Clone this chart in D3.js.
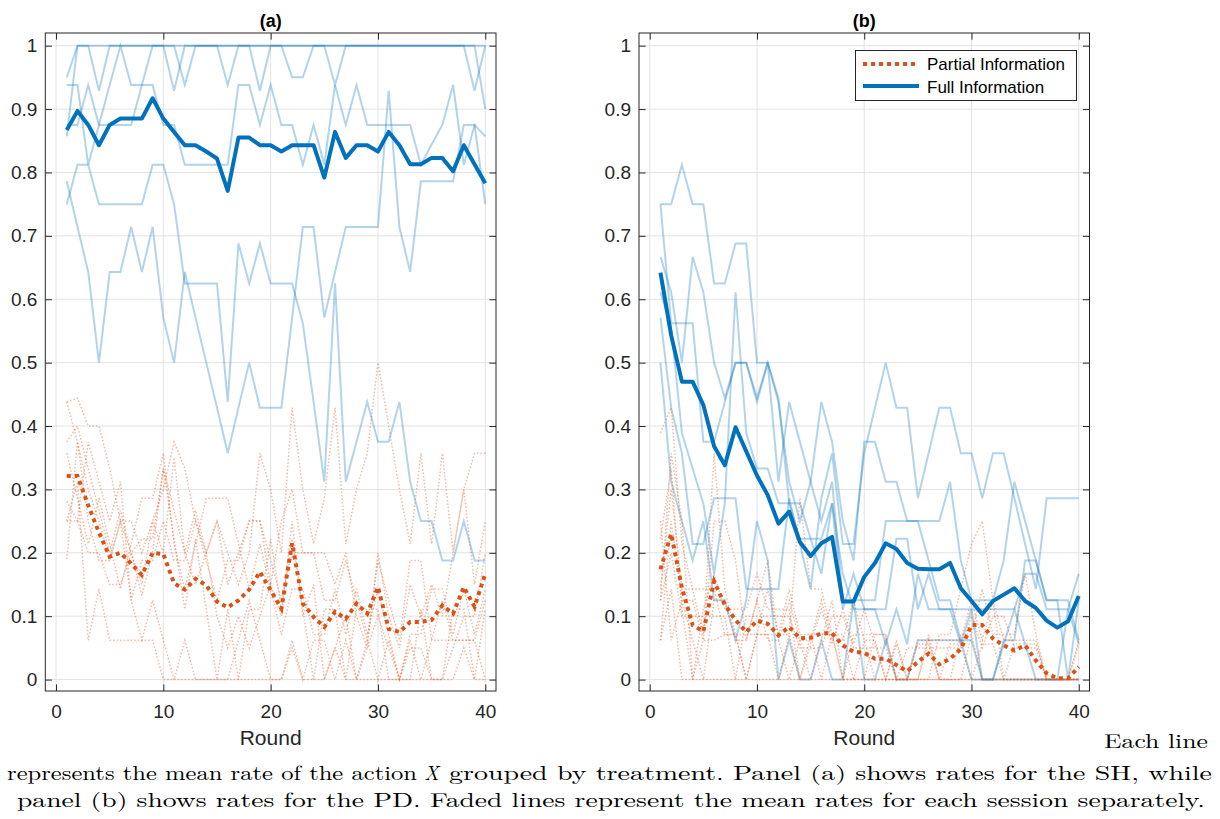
<!DOCTYPE html>
<html><head><meta charset="utf-8">
<script src="https://cdn.jsdelivr.net/npm/d3@7"></script>
<style>body{margin:0;background:#fff}svg{display:block}</style>
</head><body><svg id="c" width="1220" height="819"></svg>
<script>
// ---------------- DATA ----------------
const rounds = [1,2,3,4,5,6,7,8,9,10,11,12,13,14,15,16,17,18,19,20,21,22,23,24,25,26,27,28,29,30,31,32,33,34,35,36,37,38,39,40];
const xTicks = [0,10,20,30,40];
const yTicks = [0,0.1,0.2,0.3,0.4,0.5,0.6,0.7,0.8,0.9,1];
const yTickLabels = ["0","0.1","0.2","0.3","0.4","0.5","0.6","0.7","0.8","0.9","1"];
const panelTitles = ["(a)","(b)"];
const xLabel = "Round";
const legendLabels = ["Partial Information","Full Information"];

// Panel (a): means
const aFull = [0.867,0.897,0.875,0.843,0.875,0.885,0.885,0.885,0.917,0.885,0.864,0.843,0.843,0.833,0.822,0.771,0.855,0.855,0.843,0.843,0.833,0.843,0.843,0.843,0.792,0.864,0.823,0.843,0.843,0.833,0.864,0.843,0.813,0.813,0.823,0.823,0.802,0.843,0.813,0.783];
const aPartial = [0.321,0.321,0.275,0.232,0.194,0.2,0.183,0.165,0.2,0.198,0.152,0.142,0.159,0.149,0.123,0.114,0.125,0.142,0.17,0.141,0.112,0.215,0.12,0.099,0.083,0.107,0.096,0.12,0.104,0.146,0.08,0.075,0.091,0.091,0.094,0.117,0.104,0.146,0.115,0.167];
// Panel (a): sessions, full information
const aFullS1 = [0.95,1,1,1,1,1,1,1,1,1,1,1,1,1,1,1,1,1,1,1,1,1,1,1,1,1,1,1,1,1,1,1,1,1,1,1,1,1,1,1];
const aFullS2 = [0.875,0.875,0.938,0.875,0.875,0.875,0.875,0.938,1,1,1,0.938,1,1,1,0.938,1,1,1,1,1,0.95,0.95,1,1,0.938,1,1,1,1,1,1,1,1,1,1,1,1,1,0.9];
const aFullS3 = [0.938,0.938,0.812,0.875,0.938,1,0.938,0.938,0.938,0.875,0.875,0.812,0.812,0.812,0.812,0.812,0.938,0.938,0.875,0.938,0.875,0.875,0.812,0.875,0.812,0.938,0.875,0.938,0.875,0.875,0.875,0.875,0.875,0.812,0.844,0.875,0.938,0.812,0.875,0.857];
const aFullS4 = [0.75,0.812,0.812,0.75,0.75,0.75,0.75,0.75,0.812,0.812,0.75,0.625,0.625,0.625,0.625,0.438,0.688,0.625,0.688,0.625,0.625,0.625,0.562,0.438,0.312,0.625,0.312,0.375,0.438,0.375,0.375,0.438,0.312,0.25,0.25,0.188,0.188,0.25,0.188,0.188];
const aFullS5 = [0.786,0.714,0.643,0.5,0.643,0.643,0.714,0.643,0.714,0.571,0.5,0.643,0.571,0.5,0.429,0.357,0.429,0.5,0.429,0.429,0.429,0.571,0.714,0.714,0.571,0.643,0.714,0.714,0.714,0.714,0.929,0.714,0.643,0.786,0.786,0.786,0.786,0.875,0.875,0.75];
const aFullS6 = [0.857,1,1,0.929,1,1,1,1,1,1,0.929,1,1,1,1,1,1,1,0.929,1,1,1,1,1,1,1,1,1,1,1,1,1,1,1,1,1,1,1,0.929,1];
// Panel (a): sessions, partial information
const aPartS1 = [0.438,0.444,0.4,0.4,0.333,0.25,0.25,0.2,0.25,0.3,0.375,0.333,0.25,0.2,0.25,0.2,0.15,0.2,0.357,0.3,0.2,0.429,0.3,0.214,0.286,0.429,0.214,0.3,0.357,0.5,0.4,0.3,0.214,0.357,0.214,0.357,0.2,0.3,0.357,0.357];
const aPartS2 = [0.375,0.4,0.333,0.267,0.2,0.267,0.2,0.133,0.2,0.333,0.267,0.2,0.267,0.2,0.25,0.15,0.2,0.25,0.25,0.15,0.25,0.3,0.2,0.2,0.2,0.15,0.2,0.1,0.05,0.2,0.1,0.05,0.15,0.1,0.15,0.1,0.2,0.3,0.15,0.25];
const aPartS3 = [0.25,0.312,0.062,0.143,0.062,0.062,0.062,0.062,0.062,0,0,0,0,0,0,0,0,0,0,0,0,0.05,0,0,0,0.05,0,0,0,0,0,0,0,0,0,0,0,0.05,0,0];
const aPartS4 = [0.281,0.25,0.375,0.312,0.25,0.312,0.125,0.062,0.125,0.062,0,0.062,0,0,0,0,0.062,0.125,0.062,0,0,0.062,0,0.062,0.062,0,0.062,0,0.062,0,0.062,0,0.062,0,0.062,0.062,0.062,0.062,0.062,0];
const aPartS5 = [0.357,0.286,0.214,0.286,0.214,0.143,0.214,0.286,0.286,0.357,0.214,0.143,0.214,0.286,0.286,0.286,0.214,0.143,0.214,0.143,0.071,0.143,0.143,0.071,0.071,0.143,0.071,0.143,0.071,0.143,0.071,0,0.071,0.071,0.143,0.143,0.071,0.143,0.071,0.143];
const aPartS6 = [0.19,0.375,0.3,0.25,0.188,0.25,0.125,0.188,0.188,0.25,0.188,0.188,0.25,0.188,0.125,0.188,0.188,0.25,0.25,0.188,0.125,0.2,0.2,0.2,0.125,0.125,0.188,0.125,0.062,0.188,0.125,0.062,0.188,0.188,0.062,0.125,0.062,0.062,0.062,0.125];
const aPartS7 = [0.438,0.375,0.25,0.188,0.188,0.25,0.2,0.222,0.222,0.333,0.222,0.111,0.222,0.111,0,0.111,0,0.111,0.111,0.222,0.111,0.222,0.111,0,0.111,0.111,0,0.111,0.111,0.111,0,0,0,0.111,0,0,0.111,0.111,0,0.111];
const aPartS8 = [0.25,0.25,0.2,0.2,0.15,0.15,0.2,0.15,0.25,0.2,0.35,0.2,0.15,0.2,0.1,0.05,0.1,0.05,0.1,0.15,0.1,0.25,0.1,0.15,0,0.05,0.1,0,0.05,0.1,0.05,0,0.05,0.05,0,0,0.05,0.1,0.1,0.2];

// Panel (b): means
const bFull = [0.642,0.543,0.47,0.47,0.433,0.368,0.338,0.398,0.36,0.322,0.291,0.246,0.265,0.217,0.195,0.215,0.225,0.123,0.123,0.162,0.184,0.215,0.206,0.184,0.175,0.174,0.174,0.184,0.144,0.124,0.103,0.124,0.134,0.144,0.124,0.113,0.093,0.082,0.092,0.132];
const bPartial = [0.174,0.23,0.145,0.086,0.076,0.155,0.118,0.094,0.075,0.093,0.088,0.07,0.083,0.065,0.066,0.073,0.073,0.054,0.044,0.042,0.033,0.033,0.023,0.013,0.028,0.041,0.024,0.033,0.048,0.086,0.086,0.065,0.054,0.046,0.054,0.03,0.01,0.002,0.002,0.02];
// Panel (b): sessions, full information
const bFullS1 = [0.75,0.75,0.812,0.75,0.75,0.625,0.625,0.688,0.688,0.5,0.5,0.438,0.312,0.25,0.312,0.438,0.375,0.25,0.188,0.375,0.375,0.312,0.312,0.25,0.25,0.25,0.25,0.312,0.188,0.125,0.125,0.125,0.188,0.312,0.25,0.188,0.125,0.125,0,0.125];
const bFullS2 = [0.75,0.562,0.562,0.562,0.375,0.375,0.438,0.5,0.5,0.438,0.5,0.312,0.438,0.375,0.312,0.25,0.312,0.125,0.125,0.125,0.125,0.25,0.25,0.25,0.25,0.188,0.125,0.125,0.062,0.062,0,0,0.062,0.062,0.188,0.188,0.125,0.125,0.125,0.062];
const bFullS3 = [0.667,0.611,0.5,0.667,0.611,0.5,0.444,0.5,0.5,0.444,0.5,0.444,0.278,0.278,0.222,0.222,0.278,0.167,0.111,0.111,0.111,0.111,0.222,0.222,0.111,0.167,0.111,0.111,0.111,0.111,0.111,0.111,0.111,0.111,0.167,0.167,0.111,0.111,0.111,0.056];
const bFullS4 = [0.611,0.556,0.389,0.333,0.278,0.167,0.278,0.611,0.389,0.333,0.333,0.278,0.278,0.222,0.222,0.167,0.278,0.111,0.167,0.111,0.111,0.056,0.111,0.056,0.167,0.111,0.111,0.111,0.056,0.111,0,0,0.056,0.111,0.056,0,0,0,0.111,0.167];
const bFullS5 = [0.571,0.429,0.357,0.214,0.214,0.286,0.286,0.286,0.143,0.143,0.143,0.143,0.286,0.214,0.143,0.286,0.357,0.214,0.214,0.357,0.429,0.5,0.429,0.429,0.286,0.357,0.429,0.429,0.357,0.357,0.286,0.357,0.357,0.286,0.214,0.143,0.286,0.286,0.286,0.286];
const bFullS6 = [0.5,0.312,0.25,0.188,0.25,0.125,0.125,0.062,0.125,0.25,0.188,0,0.062,0,0,0.062,0,0,0.125,0,0,0.062,0,0,0.062,0.062,0.062,0.062,0.062,0,0,0,0,0,0,0,0,0,0,0];
// Panel (b): sessions, partial information
const bPartS1 = [0.389,0.429,0.214,0.143,0.071,0.357,0.143,0.071,0,0.071,0.071,0,0.071,0,0.071,0,0.071,0,0,0,0,0,0,0,0,0.071,0,0,0,0.071,0,0,0,0,0,0,0,0,0,0];
const bPartS2 = [0.125,0.357,0.25,0,0.062,0.25,0.25,0.188,0.062,0.125,0.188,0.062,0.125,0.062,0,0.062,0.125,0,0,0.062,0,0,0.062,0,0,0.062,0,0,0,0,0,0,0,0,0,0,0,0,0,0];
const bPartS3 = [0.143,0.3,0.143,0.143,0.143,0.143,0.071,0.071,0.071,0.071,0.143,0.071,0.071,0.286,0.143,0.143,0.071,0.071,0,0,0.071,0.071,0,0,0,0,0.071,0.071,0.143,0.214,0.25,0.125,0,0,0,0,0,0,0,0];
const bPartS4 = [0.062,0.25,0.125,0.062,0,0.125,0.125,0.062,0.062,0.125,0.062,0.062,0,0.062,0.062,0.125,0.062,0.062,0.125,0.062,0.062,0,0,0,0.062,0.062,0.062,0.062,0.062,0.125,0.062,0.125,0.062,0.062,0.062,0.062,0,0,0,0];
const bPartS5 = [0.25,0.062,0.125,0.125,0.062,0.062,0.071,0.071,0,0.071,0.071,0.071,0.143,0.071,0.071,0.071,0.071,0,0.071,0.071,0.071,0.071,0,0,0,0,0,0,0.071,0.071,0.143,0.071,0.071,0.071,0.167,0.071,0,0,0,0.062];
const bPartS6 = [0.062,0.143,0,0,0,0,0,0,0,0,0,0,0,0,0,0,0,0,0,0,0,0,0,0,0,0,0,0,0,0,0,0,0,0,0,0,0,0,0,0];
const bPartS7 = [0.125,0.2,0.1,0.1,0.1,0.1,0.1,0,0.1,0.1,0.1,0.1,0.1,0.05,0.05,0.05,0.1,0.1,0.05,0.05,0.05,0.05,0,0.05,0.05,0.05,0.05,0.05,0.05,0.1,0.05,0.1,0.1,0.05,0.05,0.05,0,0,0,0];
const bPartS8 = [0.222,0.333,0.111,0,0.111,0.167,0.111,0.111,0.111,0.167,0.111,0.111,0.111,0,0.056,0.111,0.056,0.111,0.056,0.111,0.056,0,0.056,0,0.056,0.056,0,0.056,0.056,0,0.056,0.056,0,0.056,0.056,0.056,0,0,0,0.056];

const captionLine1 = "Each line";
const captionLine2a = "represents the mean rate of the action";
const captionLine2x = "X";
const captionLine2b = "grouped by treatment. Panel (a) shows rates for the SH, while";
const captionLine3 = "panel (b) shows rates for the PD. Faded lines represent the mean rates for each session separately.";

// ---------------- DRAWING ----------------
const BLUE = "#0072BD", ORANGE = "#D95319", AXC = "#262626";
const FONT = "'Liberation Sans', Arial, Helvetica, sans-serif";
const svg = d3.select("#c");
const TOP = 33, BOT = 691;
const y = d3.scaleLinear().domain([-0.018, 1.02]).range([BOT, TOP]);

function panel(L, R, title, full, partial, fullS, partS, legend) {
  const x = d3.scaleLinear().domain([-1, 41]).range([L, R]);
  const g = svg.append("g");
  const W = R - L, H = BOT - TOP;
  // grid
  g.append("g").selectAll("line").data(xTicks).join("line")
    .attr("x1", d => x(d)).attr("x2", d => x(d)).attr("y1", TOP).attr("y2", BOT)
    .attr("stroke", "#e3e3e3").attr("stroke-width", 1);
  g.append("g").selectAll("line").data(yTicks).join("line")
    .attr("y1", d => y(d)).attr("y2", d => y(d)).attr("x1", L).attr("x2", R)
    .attr("stroke", "#e3e3e3").attr("stroke-width", 1);

  const line = d3.line().x((d, i) => x(rounds[i])).y(d => y(d));
  // session lines
  fullS.forEach(s => g.append("path").attr("d", line(s)).attr("fill", "none")
    .attr("stroke", BLUE).attr("stroke-opacity", 0.3).attr("stroke-width", 2));
  partS.forEach(s => g.append("path").attr("d", line(s)).attr("fill", "none")
    .attr("stroke", ORANGE).attr("stroke-opacity", 0.4).attr("stroke-width", 1.5)
    .attr("stroke-dasharray", "1.5,2"));
  // means
  g.append("path").attr("d", line(full)).attr("fill", "none")
    .attr("stroke", BLUE).attr("stroke-width", 4).attr("stroke-linejoin", "round");
  g.append("path").attr("d", line(partial)).attr("fill", "none")
    .attr("stroke", ORANGE).attr("stroke-width", 4).attr("stroke-dasharray", "4,4");

  // axes
  const fmt = d => yTickLabels[yTicks.indexOf(d)];
  const tl = 6.6;
  const ax = g.append("g").attr("transform", `translate(${L},0)`)
    .call(d3.axisLeft(y).tickValues(yTicks).tickFormat(fmt).tickSizeInner(-tl).tickSizeOuter(0).tickPadding(8));
  const ax2 = g.append("g").attr("transform", `translate(${R},0)`)
    .call(d3.axisRight(y).tickValues(yTicks).tickFormat("").tickSizeInner(-tl).tickSizeOuter(0));
  const bx = g.append("g").attr("transform", `translate(0,${BOT})`)
    .call(d3.axisBottom(x).tickValues(xTicks).tickFormat(d3.format("d")).tickSizeInner(-tl).tickSizeOuter(0).tickPadding(14));
  const bx2 = g.append("g").attr("transform", `translate(0,${TOP})`)
    .call(d3.axisTop(x).tickValues(xTicks).tickFormat("").tickSizeInner(-tl).tickSizeOuter(0));
  [ax, ax2, bx, bx2].forEach(a => {
    a.select(".domain").remove();
    a.selectAll("line").attr("stroke", AXC).attr("stroke-width", 1);
    a.selectAll("text").attr("fill", AXC).style("font-family", FONT).style("font-size", "19px");
  });
  g.append("rect").attr("x", L).attr("y", TOP).attr("width", W).attr("height", H)
    .attr("fill", "none").attr("stroke", AXC).attr("stroke-width", 1);

  // labels
  g.append("text").attr("x", (L + R) / 2).attr("y", 745).attr("text-anchor", "middle")
    .style("font-family", FONT).style("font-size", "21px").attr("fill", AXC).text(xLabel);
  g.append("text").attr("x", (L + R) / 2).attr("y", 27).attr("text-anchor", "middle")
    .style("font-family", FONT).style("font-size", "18px").style("font-weight", "bold").attr("fill", "#000").text(title);

  if (legend) {
    const lg = g.append("g");
    lg.append("rect").attr("x", 855.5).attr("y", 50.5).attr("width", 221).attr("height", 50)
      .attr("fill", "#fff").attr("stroke", AXC).attr("stroke-width", 1);
    lg.append("line").attr("x1", 863).attr("x2", 919).attr("y1", 64).attr("y2", 64)
      .attr("stroke", ORANGE).attr("stroke-width", 4).attr("stroke-dasharray", "4,4");
    lg.append("line").attr("x1", 863).attr("x2", 919).attr("y1", 86).attr("y2", 86)
      .attr("stroke", BLUE).attr("stroke-width", 4);
    lg.selectAll("text").data(legendLabels).join("text")
      .attr("x", 927).attr("y", (d, i) => 70 + i * 22.5)
      .style("font-family", FONT).style("font-size", "17px").attr("fill", "#000").text(d => d);
  }
}

panel(45.3, 496, panelTitles[0], aFull, aPartial,
  [aFullS1, aFullS2, aFullS3, aFullS4, aFullS5, aFullS6],
  [aPartS1, aPartS2, aPartS3, aPartS4, aPartS5, aPartS6, aPartS7, aPartS8], false);
panel(639, 1089.5, panelTitles[1], bFull, bPartial,
  [bFullS1, bFullS2, bFullS3, bFullS4, bFullS5, bFullS6],
  [bPartS1, bPartS2, bPartS3, bPartS4, bPartS5, bPartS6, bPartS7, bPartS8], true);

// caption
const SERIF = "'Latin Modern Roman','CMU Serif','Liberation Serif','DejaVu Serif',serif";
function cap(txt, x, yy, len, italic, anchor) {
  const t = svg.append("text").attr("x", x).attr("y", yy)
    .style("font-family", SERIF).style("font-size", "20px").attr("fill", "#000").text(txt);
  if (italic) t.style("font-style", "italic");
  if (anchor) t.attr("text-anchor", anchor);
  if (len) t.attr("textLength", len).attr("lengthAdjust", "spacingAndGlyphs");
  return t;
}
cap(captionLine1, 1208, 748, 104, false, "end");
cap(captionLine2a, 7, 780, 410, false);
cap(captionLine2x, 424, 780, null, true);
cap(captionLine2b, 449, 780, 763, false);
cap(captionLine3, 17, 807, 1188, false);
</script></body></html>
